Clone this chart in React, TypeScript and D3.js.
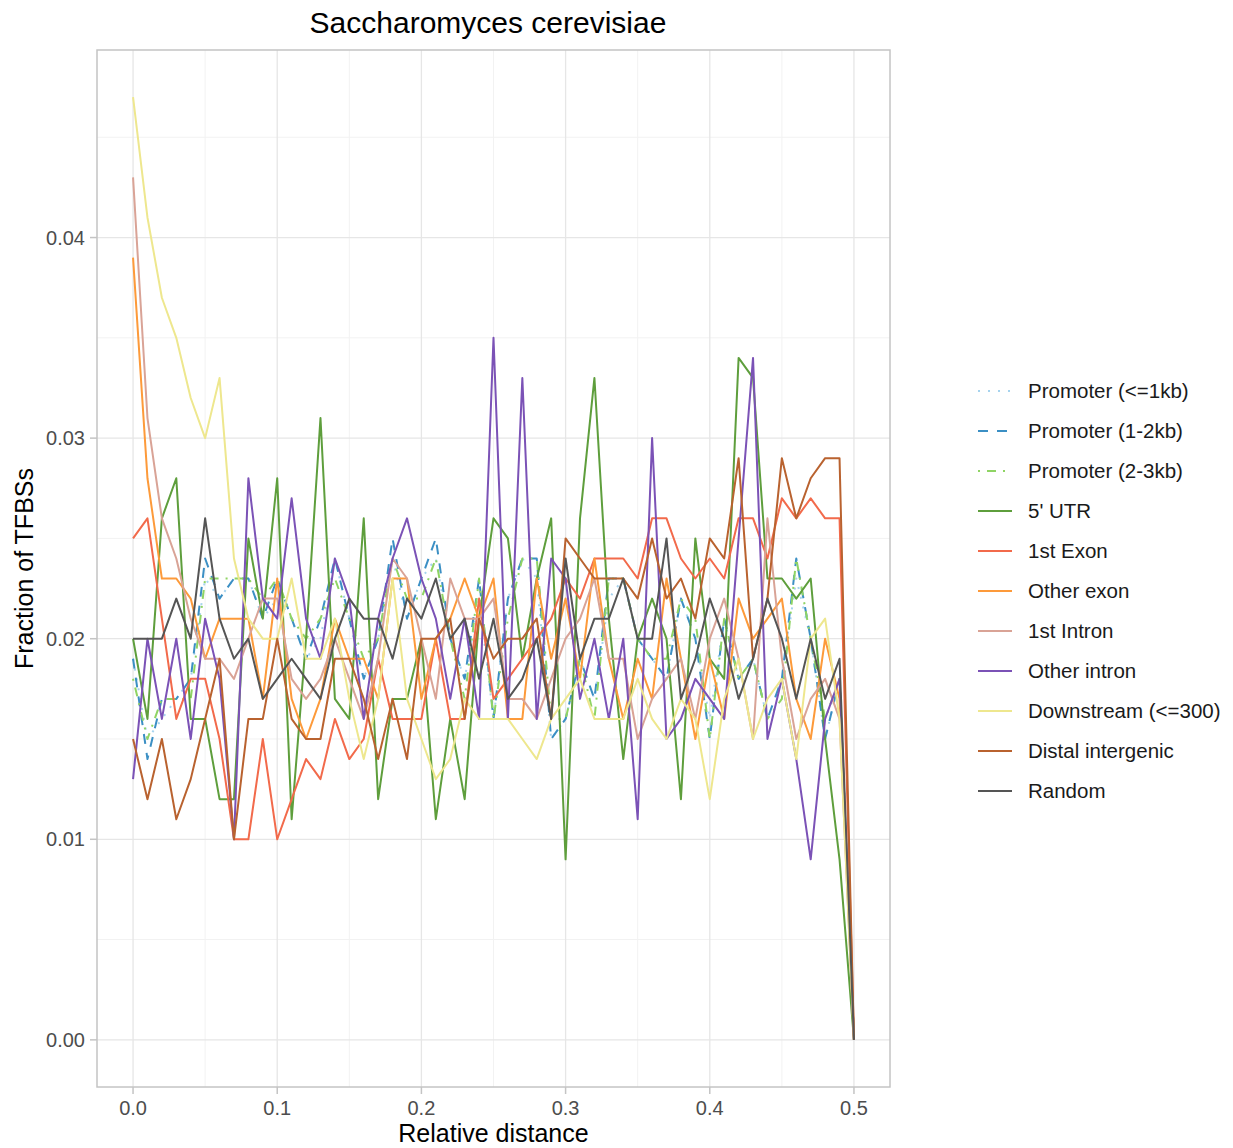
import React from "react";
import * as d3 from "d3";

// relative distance bins 0.00 .. 0.50
const distance = d3.range(51).map(i => i / 100);

// fractions (per mille)
const promoterLe1kb = [19, 15, 16, 17, 18, 23, 22, 23, 23, 21, 22, 21, 19, 20, 24, 21, 18, 20, 24, 21, 23, 24, 20, 18, 22, 16, 22, 24, 23, 15, 16, 19, 17, 22, 23, 20, 19, 18, 22, 20, 16, 21, 18, 19, 16, 18, 23, 20, 15, 18, 0];
const promoter1to2kb = [19, 14, 17, 17, 18, 24, 22, 23, 23, 21, 23, 21, 19, 21, 24, 21, 18, 20, 25, 21, 23, 25, 20, 18, 23, 16, 22, 24, 24, 15, 16, 19, 17, 23, 23, 20, 19, 18, 22, 20, 15, 21, 18, 19, 16, 18, 24, 20, 15, 18, 0];
const promoter2to3kb = [18, 15, 17, 17, 17, 23, 23, 23, 23, 22, 23, 21, 20, 21, 23, 21, 19, 20, 24, 22, 22, 24, 20, 17, 23, 16, 21, 24, 24, 16, 16, 19, 16, 23, 23, 20, 19, 19, 22, 21, 15, 21, 18, 19, 16, 17, 24, 20, 16, 18, 0];
const utr5 = [20, 16, 26, 28, 16, 16, 12, 12, 25, 21, 28, 11, 20, 31, 17, 16, 26, 12, 17, 17, 20, 11, 16, 12, 21, 26, 25, 19, 23, 26, 9, 26, 33, 21, 14, 20, 22, 20, 12, 25, 19, 18, 34, 33, 23, 23, 22, 23, 15, 9, 0];
const exon1 = [25, 26, 21, 16, 18, 18, 15, 10, 10, 15, 10, 12, 14, 13, 16, 14, 15, 19, 16, 16, 16, 20, 16, 16, 22, 17, 18, 19, 20, 21, 23, 22, 24, 24, 24, 23, 26, 26, 24, 23, 24, 23, 26, 26, 24, 27, 26, 27, 26, 26, 0];
const otherExon = [39, 28, 23, 23, 22, 19, 21, 21, 21, 17, 23, 17, 15, 17, 21, 19, 19, 17, 23, 23, 17, 20, 21, 23, 21, 23, 16, 16, 23, 19, 22, 18, 24, 19, 16, 19, 17, 23, 19, 15, 19, 16, 22, 20, 21, 22, 17, 15, 20, 17, 0];
const intron1 = [43, 31, 26, 24, 21, 19, 19, 18, 20, 22, 22, 18, 17, 18, 20, 18, 16, 19, 24, 23, 20, 17, 23, 21, 21, 22, 17, 17, 16, 18, 20, 21, 23, 19, 19, 15, 17, 18, 19, 16, 20, 22, 19, 15, 26, 19, 15, 17, 18, 16, 0];
const otherIntron = [13, 20, 16, 20, 15, 21, 18, 10, 28, 22, 21, 27, 21, 19, 24, 22, 16, 21, 24, 26, 23, 21, 17, 21, 16, 35, 16, 33, 16, 24, 23, 17, 20, 16, 20, 11, 30, 15, 16, 18, 17, 16, 25, 34, 15, 18, 14, 9, 16, 18, 0];
const downstream = [47, 41, 37, 35, 32, 30, 33, 24, 21, 20, 20, 23, 19, 19, 21, 17, 14, 17, 23, 17, 15, 13, 14, 17, 16, 16, 16, 15, 14, 16, 17, 18, 16, 16, 16, 18, 16, 15, 17, 16, 12, 17, 19, 15, 17, 18, 14, 20, 21, 16, 0];
const distal = [15, 12, 15, 11, 13, 16, 19, 10, 16, 16, 20, 16, 15, 15, 19, 19, 17, 14, 17, 14, 20, 20, 21, 16, 21, 19, 20, 20, 21, 16, 25, 24, 23, 23, 23, 22, 25, 22, 23, 21, 25, 24, 29, 19, 22, 29, 26, 28, 29, 29, 0];
const random = [20, 20, 20, 22, 20, 26, 21, 19, 20, 17, 18, 19, 18, 17, 20, 22, 21, 21, 19, 22, 21, 23, 20, 21, 18, 21, 17, 18, 20, 16, 24, 19, 21, 21, 23, 20, 20, 25, 17, 19, 22, 20, 17, 19, 22, 20, 17, 20, 17, 19, 0];

const seriesNames = [
  "Promoter (<=1kb)", "Promoter (1-2kb)", "Promoter (2-3kb)", "5' UTR", "1st Exon",
  "Other exon", "1st Intron", "Other intron", "Downstream (<=300)", "Distal intergenic", "Random"
];
const seriesValues = [
  promoterLe1kb, promoter1to2kb, promoter2to3kb, utr5, exon1,
  otherExon, intron1, otherIntron, downstream, distal, random
];
const seriesColors = [
  "#a6d3ee", "#3b8fc4", "#8fd464", "#5e9e3c", "#f26a4b",
  "#fd9a3a", "#d9a396", "#7b52b6", "#eee78e", "#b9622f", "#555555"
];
const seriesDash = [
  "2 8", "10 9", "2 7 9 7", null, null, null, null, null, null, null, null
];
const xTicks = [0, 0.1, 0.2, 0.3, 0.4, 0.5];
const yTicks = [0, 0.01, 0.02, 0.03, 0.04];

const W = 1233, H = 1148;
const panel = { left: 97, right: 890, top: 50, bottom: 1087 };
const font = "'Liberation Sans', Arial, Helvetica, sans-serif";

const App = () => {
  const series = seriesNames.map((name, k) => ({
    name,
    color: seriesColors[k],
    dash: seriesDash[k],
    points: seriesValues[k].map((v, i) => ({ x: distance[i], y: v / 1000 }))
  }));

  const ymax = d3.max(series, s => d3.max(s.points, p => p.y));
  const xpad = 0.5 * 0.05;
  const ypad = ymax * 0.05;
  const x = d3.scaleLinear().domain([-xpad, 0.5 + xpad]).range([panel.left, panel.right]);
  const y = d3.scaleLinear().domain([-ypad, ymax + ypad]).range([panel.bottom, panel.top]);

  const line = d3.line().x(d => x(d.x)).y(d => y(d.y));

  const xMinor = d3.range(0.05, 0.5, 0.1);
  const yMinor = [0.005, 0.015, 0.025, 0.035, 0.045];

  return (
    <svg width={W} height={H} style={{ display: "block", position: "absolute", left: 0, top: 0 }}>
      <rect width={W} height={H} fill="#ffffff" />
      <text x={488} y={33} textAnchor="middle" fontFamily={font} fontSize={30} fill="#000">
        Saccharomyces cerevisiae
      </text>

      {/* grid */}
      {yMinor.map(t => (
        <line key={"ym" + t} x1={panel.left} x2={panel.right} y1={y(t)} y2={y(t)} stroke="#f2f2f2" strokeWidth={1} />
      ))}
      {xMinor.map(t => (
        <line key={"xm" + t} y1={panel.top} y2={panel.bottom} x1={x(t)} x2={x(t)} stroke="#f2f2f2" strokeWidth={1} />
      ))}
      {yTicks.map(t => (
        <line key={"yg" + t} x1={panel.left} x2={panel.right} y1={y(t)} y2={y(t)} stroke="#e6e6e6" strokeWidth={1.3} />
      ))}
      {xTicks.map(t => (
        <line key={"xg" + t} y1={panel.top} y2={panel.bottom} x1={x(t)} x2={x(t)} stroke="#e6e6e6" strokeWidth={1.3} />
      ))}

      {/* data */}
      {series.map(s => (
        <path key={s.name} d={line(s.points)} fill="none" stroke={s.color} strokeWidth={2}
          strokeDasharray={s.dash || undefined} strokeLinejoin="round" />
      ))}

      <rect x={panel.left} y={panel.top} width={panel.right - panel.left} height={panel.bottom - panel.top}
        fill="none" stroke="#c4c4c4" strokeWidth={1.5} />

      {/* axes */}
      {yTicks.map(t => (
        <g key={"yt" + t}>
          <line x1={panel.left - 7} x2={panel.left} y1={y(t)} y2={y(t)} stroke="#c4c4c4" strokeWidth={1.5} />
          <text x={panel.left - 12} y={y(t)} dy="0.35em" textAnchor="end" fontFamily={font} fontSize={20} fill="#4d4d4d">
            {d3.format(".2f")(t)}
          </text>
        </g>
      ))}
      {xTicks.map(t => (
        <g key={"xt" + t}>
          <line y1={panel.bottom} y2={panel.bottom + 7} x1={x(t)} x2={x(t)} stroke="#c4c4c4" strokeWidth={1.5} />
          <text x={x(t)} y={panel.bottom + 28} textAnchor="middle" fontFamily={font} fontSize={20} fill="#4d4d4d">
            {d3.format(".1f")(t)}
          </text>
        </g>
      ))}
      <text x={(panel.left + panel.right) / 2} y={1142} textAnchor="middle" fontFamily={font} fontSize={25} fill="#000">
        Relative distance
      </text>
      <text transform={`translate(33, ${(panel.top + panel.bottom) / 2}) rotate(-90)`} textAnchor="middle"
        fontFamily={font} fontSize={25} fill="#000">
        Fraction of TFBSs
      </text>

      {/* legend */}
      {series.map((s, k) => (
        <g key={"lg" + s.name} transform={`translate(978, ${391 + k * 40})`}>
          <line x1={0} x2={34} y1={0} y2={0} stroke={s.color} strokeWidth={2}
            strokeDasharray={s.dash || undefined} />
          <text x={50} y={0} dy="0.35em" fontFamily={font} fontSize={20.5} fill="#1a1a1a">{s.name}</text>
        </g>
      ))}
    </svg>
  );
};

export default App;
